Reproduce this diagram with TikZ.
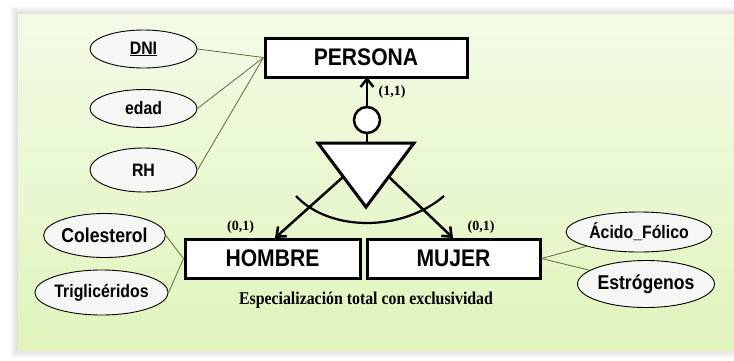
\documentclass[tikz,border=0pt]{standalone}
\usepackage{fontspec}
\setmainfont{Liberation Serif}
\setsansfont{Liberation Sans}
\newfontfamily\condsans[FakeStretch=0.88]{Liberation Sans}
\newfontfamily\condserif[FakeStretch=0.88]{Liberation Serif}
\usetikzlibrary{shapes.geometric,arrows.meta}
\definecolor{panelTop}{HTML}{F3FBE6}
\definecolor{panelBot}{HTML}{E0F4BC}
\definecolor{attrline}{HTML}{5C6B3A}
\definecolor{ellfill}{HTML}{F6F6F4}
\begin{document}
\begin{tikzpicture}[x=1pt,y=-1pt,
  entity/.style={draw=black, line width=3pt, fill=white, minimum height=39pt, inner sep=0pt,
    font=\condsans\bfseries\fontsize{24}{26}\selectfont},
  attr/.style={ellipse, draw=black, line width=0.9pt, fill=ellfill, inner sep=0pt,
    font=\condsans\bfseries\fontsize{18}{20}\selectfont},
  attrlink/.style={draw=attrline, line width=0.8pt},
  isa/.style={line width=2.5pt, -{Straight Barb[length=8pt,width=13pt]}},
  card/.style={font=\rmfamily\bfseries\fontsize{14}{16}\selectfont, inner sep=0pt},
  caption/.style={font=\condserif\bfseries\fontsize{18}{20}\selectfont, inner sep=0pt},
  thickline/.style={line width=2.5pt},
]
\useasboundingbox (0,0) rectangle (734,360);
\fill[white] (0,0) rectangle (734,360);
\foreach \d in {1,...,8}
  \fill[black, opacity=0.015] (18-\d,14-\d) rectangle (740,350+\d);
\shade[top color=panelTop, bottom color=panelBot] (18,14) rectangle (740,350);

% entities
\node[entity, minimum width=202pt] (persona) at (366,57.5) {PERSONA};
\node[entity, minimum width=175pt] (hombre) at (272.5,258.5) {HOMBRE};
\node[entity, minimum width=173pt] (mujer) at (453.5,258.5) {MUJER};

% attributes
\node[attr, minimum width=107pt, minimum height=38pt] (dni) at (143.5,49) {\underline{DNI}};
\node[attr, minimum width=107pt, minimum height=38pt] (edad) at (143.5,108.5) {edad};
\node[attr, minimum width=107pt, minimum height=44pt] (rh) at (143.5,170) {RH};
\node[attr, minimum width=105pt, minimum height=44pt, font=\condsans\bfseries\fontsize{20}{22}\selectfont] (col) at (104.5,235.5) {Colesterol};
\node[attr, minimum width=107pt, minimum height=45pt] (tri) at (101.5,292.5) {Triglicéridos};
\node[attr, minimum width=146pt, minimum height=40pt] (aci) at (639,232) {Ácido\_Fólico};
\node[attr, minimum width=134pt, minimum height=47pt, font=\condsans\bfseries\fontsize{20}{22}\selectfont] (est) at (646,284) {Estrógenos};

\draw[attrlink] (dni.east) -- (persona.west);
\draw[attrlink] (edad.east) -- (persona.west);
\draw[attrlink] (rh.east) -- (persona.west);
\draw[attrlink] (col.east) -- (hombre.west);
\draw[attrlink] (tri.east) -- (hombre.west);
\draw[attrlink] (mujer.east) -- (aci);
\draw[attrlink] (mujer.east) -- (est);

% generalization symbol
\node[circle, draw=black, line width=2.5pt, fill=white, minimum size=26pt, inner sep=0pt] (disj) at (367,120) {};
\coordinate (pBot) at (367,77);
\draw[isa] (disj.north) -- (pBot);
\node[card] (c11) at (392,92) {(1,1)};

\coordinate (tl) at (318,143);
\coordinate (tr) at (414,143);
\coordinate (tb) at (366,207);
\coordinate (tTop) at (367,143);
\draw[thickline] (disj.south) -- (tTop);
\draw[line width=3pt, fill=white, line join=miter] (tl) -- (tr) -- (tb) -- cycle;

\coordinate (aL) at (343,177);
\coordinate (aR) at (389,177);
\coordinate (hTop) at (275,238);
\coordinate (mTop) at (453,238);
\draw[isa] (aL) -- (hTop);
\draw[isa] (aR) -- (mTop);

\coordinate (arcL) at (296,196);
\coordinate (arcR) at (444,196);
\coordinate (arcC1) at (330,232);
\coordinate (arcC2) at (402,232);
\draw[line width=2.2pt] (arcL) .. controls (arcC1) and (arcC2) .. (arcR);

\node[card] (c01a) at (240.5,227) {(0,1)};
\node[card] (c01b) at (481,227) {(0,1)};

\node[caption] (cap) at (366,300) {Especialización total con exclusividad};
\end{tikzpicture}
\end{document}
